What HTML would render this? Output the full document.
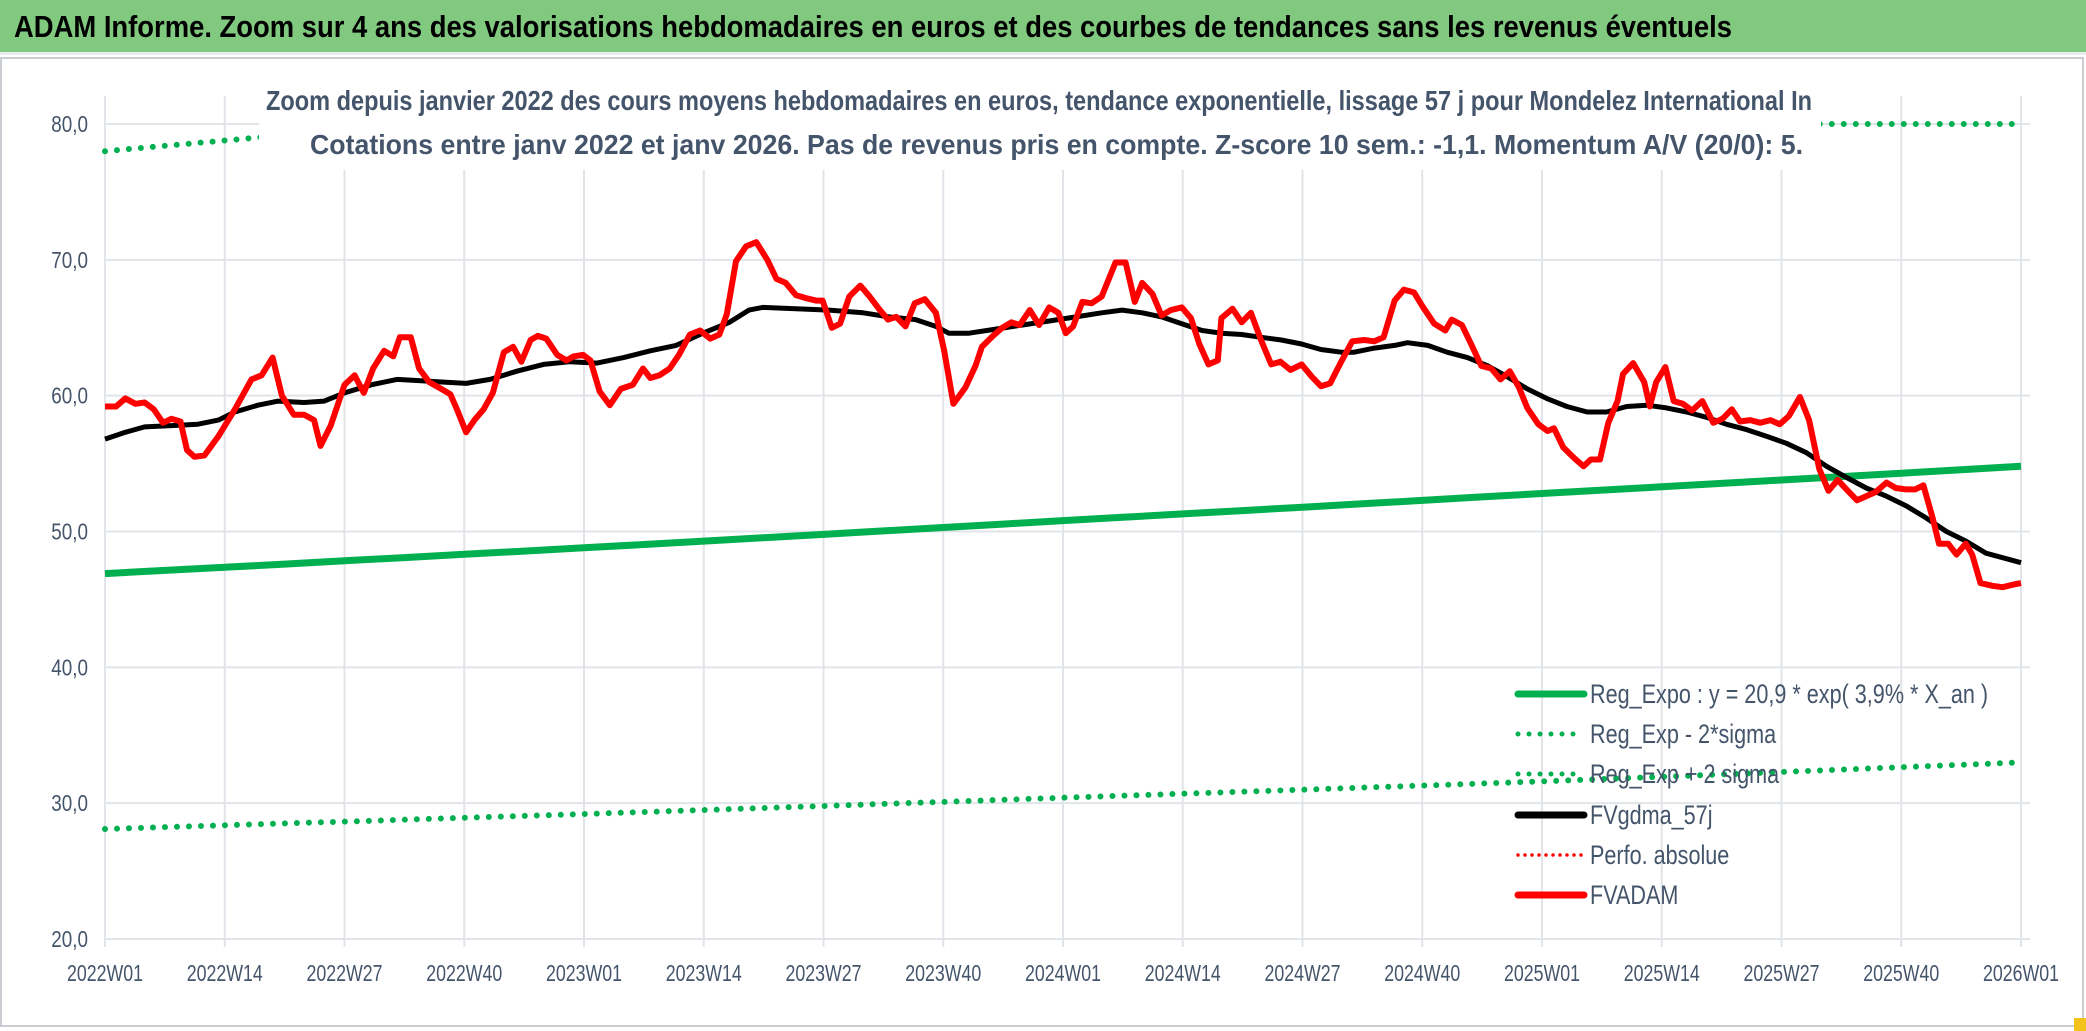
<!DOCTYPE html>
<html><head><meta charset="utf-8"><style>
html,body{margin:0;padding:0;background:#fff;}
body{width:2086px;height:1031px;overflow:hidden;position:relative;font-family:"Liberation Sans",sans-serif;}
#titlebar{position:absolute;left:0;top:0;width:2086px;height:52px;background:#80c97f;border-bottom:3px solid #e8ecf0;}
svg{position:absolute;left:0;top:0;}
</style></head><body>
<div id="titlebar"></div>
<svg id="chart" width="2086" height="1031"></svg>
<script>
const yTicks=[20,30,40,50,60,70,80];
const yTickLabels=["20,0","30,0","40,0","50,0","60,0","70,0","80,0"];
const xTickWeeks=[0,13,26,39,52,65,78,91,104,117,130,143,156,169,182,195,208];
const xTickLabels=["2022W01","2022W14","2022W27","2022W40","2023W01","2023W14","2023W27","2023W40","2024W01","2024W14","2024W27","2024W40","2025W01","2025W14","2025W27","2025W40","2026W01"];
const regWeeks=[0,52,104,156,208];
const regValues=[46.9,48.8,50.8,52.8,54.8];
const lowValues=[28.1,29.2,30.4,31.6,33.0];
const highValues=[78.0,81.2,84.4,87.8,91.2];
const blackWeeks=[0,2.2,4.3,7.2,10.1,12.3,14.1,16.6,18.8,21.6,23.8,26,28.9,31.7,34.3,36.8,39.2,41.8,44.7,47.6,50.5,53.4,56.3,59.2,62,64.9,67.8,69.9,71.4,75,78.6,82.3,85.1,88,90.2,91.6,93.8,96.7,99.6,102.5,105.4,108.2,110.4,112.6,114.7,116.9,119.1,121.2,123.4,125.5,127.7,129.9,132,134.2,135.6,137.8,140,141.4,143.6,145.7,147.9,150.1,152.2,154.4,156.5,158.7,160.9,163,165.2,167.4,169.5,171.7,173.9,176,178.2,180.4,182.5,184.7,186.9,189,191.2,193.4,195.5,197.7,199.9,202,204.2,206.4,208];
const blackValues=[56.8,57.3,57.7,57.8,57.9,58.2,58.8,59.3,59.6,59.5,59.6,60.2,60.8,61.2,61.1,61.0,60.9,61.2,61.8,62.3,62.5,62.4,62.8,63.3,63.7,64.6,65.4,66.3,66.5,66.4,66.3,66.1,65.8,65.6,65.1,64.6,64.6,64.9,65.2,65.5,65.8,66.1,66.3,66.1,65.8,65.3,64.8,64.6,64.5,64.3,64.1,63.8,63.4,63.2,63.2,63.5,63.7,63.9,63.7,63.2,62.8,62.2,61.4,60.5,59.8,59.2,58.8,58.8,59.2,59.3,59.1,58.8,58.4,57.9,57.5,57.0,56.5,55.8,54.8,54.0,53.2,52.6,51.9,51.0,50.0,49.3,48.4,48.0,47.7];
const redWeeks=[0,1.2,2.2,3.3,4.3,5.3,6.3,7.2,8.2,8.9,9.7,10.8,12.3,14.1,15.9,17,18.2,19.2,20.5,21.6,22.7,23.4,24.5,26,27.1,28.1,29.1,30.3,31.3,32,33.2,34.1,35.2,36.5,37.5,38.2,39.2,40.1,41.1,42.1,43.3,44.3,45.2,46.2,47,47.9,49.1,50.1,50.9,51.9,52.7,53.7,54.8,56,57.3,58.4,59.2,60.2,61.3,62.3,63.5,64.6,65.7,66.7,67.5,68.5,69.6,70.7,71.9,72.9,73.9,75,76,77.2,77.9,78.9,79.8,80.8,82,83,84,85,85.9,86.9,87.9,89,90.2,91.1,92.1,93.4,94.5,95.2,96.4,97.4,98.4,99.3,100.4,101.4,102.5,103.5,104.3,105.1,106.1,107.1,108.2,109.7,110.8,111.8,112.6,113.7,114.7,115.7,116.9,117.9,118.8,119.8,120.8,121.2,122.4,123.4,124.4,125.5,126.6,127.6,128.7,129.9,131,132,133,134.2,135.4,136.7,137.8,138.8,140,141,142.1,143.1,144.3,145.5,146.2,147.3,148.3,149.4,150.5,151.5,152.5,153.5,154.4,155.6,156.6,157.3,158.3,159.5,160.5,161.3,162.3,163.2,164.2,164.8,165.9,167.1,167.7,168.4,169.4,170.3,171.3,172.3,173.4,174.6,175.6,176.6,177.5,178.6,179.7,180.8,181.8,182.8,184,185,186.1,187.1,188.1,189.2,190.2,191.2,192.2,193.4,194.4,195.5,196.5,197.4,198.4,199.1,200.1,201,202,202.7,203.6,204.9,206,207.2,208];
const redValues=[59.2,59.2,59.8,59.4,59.5,59.0,58.0,58.3,58.1,56.0,55.5,55.6,57,59,61.2,61.5,62.8,60,58.6,58.6,58.2,56.3,57.8,60.8,61.5,60.2,62,63.3,62.9,64.3,64.3,62,61,60.5,60.1,59,57.3,58.2,59,60.2,63.2,63.6,62.5,64.1,64.4,64.2,63.0,62.6,62.9,63.0,62.6,60.3,59.3,60.5,60.8,62.0,61.3,61.5,62,63,64.5,64.8,64.2,64.5,66,69.9,71,71.3,70,68.6,68.3,67.4,67.2,67.0,67.0,65,65.3,67.3,68.1,67.3,66.4,65.6,65.8,65.1,66.8,67.1,66.1,63.3,59.4,60.6,62.2,63.6,64.4,65,65.4,65.2,66.3,65.2,66.5,66.1,64.6,65.1,66.9,66.8,67.3,69.8,69.8,66.9,68.3,67.5,65.9,66.3,66.5,65.7,63.8,62.3,62.6,65.7,66.4,65.4,66.1,64.1,62.3,62.5,61.9,62.3,61.4,60.7,60.9,62.5,64.0,64.1,64.0,64.3,67.0,67.8,67.6,66.5,65.3,64.8,65.6,65.2,63.8,62.2,62.0,61.2,61.8,60.6,59.1,57.9,57.4,57.6,56.2,55.4,54.8,55.3,55.3,58,59.6,61.6,62.4,61,59.2,61,62.1,59.6,59.4,58.9,59.6,58.0,58.3,59.0,58.1,58.2,58.0,58.2,57.9,58.5,59.9,58.2,54.6,53.0,53.8,53.0,52.3,52.6,52.9,53.6,53.2,53.1,53.1,53.4,51.0,49.1,49.1,48.3,49.1,48.3,46.2,46.0,45.9,46.1,46.2];

const NS="http://www.w3.org/2000/svg";
const svg=document.getElementById('chart');
const X0=105,X1=2021,Y20=939,Y80=124;
function xs(w){return X0+(X1-X0)*w/208;}
function ys(v){return Y20-(Y20-Y80)*(v-20)/60;}
function mk(tag,attrs,parent){const e=document.createElementNS(NS,tag);for(const k in attrs)e.setAttribute(k,attrs[k]);(parent||svg).appendChild(e);return e;}
function condense(t,f){const L=t.getComputedTextLength();t.setAttribute('textLength',(L*f).toFixed(1));t.setAttribute('lengthAdjust','spacingAndGlyphs');}
function fixLen(t,L){t.setAttribute('textLength',L);t.setAttribute('lengthAdjust','spacingAndGlyphs');}
const FONT='"Liberation Sans",sans-serif';

// header text
const ht=mk('text',{x:14,y:37,'font-size':31,'font-weight':'bold',fill:'#000','font-family':FONT});
ht.textContent='ADAM Informe. Zoom sur 4 ans des valorisations hebdomadaires en euros et des courbes de tendances sans les revenus éventuels';


fixLen(ht,1718);

// chart frame
const frame=mk('rect',{x:1,y:58,width:2082,height:968,fill:'#fff',stroke:'#c9ccd1','stroke-width':2});


mk('rect',{x:2074,y:1018,width:12,height:13,fill:'#f2c21b'});

yTicks.forEach((t,i)=>{
  const g=mk('line',{x1:X0,x2:2030,y1:ys(t),y2:ys(t),stroke:'#e1e4e8','stroke-width':2});
  
  
  const l=mk('text',{x:88,y:ys(t)+8,'text-anchor':'end','font-size':23,fill:'#44546a','font-family':FONT});
  l.textContent=yTickLabels[i];
  
  
  condense(l,0.82);
});
xTickWeeks.forEach((w,i)=>{
  const g=mk('line',{x1:xs(w),x2:xs(w),y1:ys(80)-28,y2:Y20+8,stroke:'#e1e4e8','stroke-width':2});
  
  
  const l=mk('text',{x:xs(w),y:981,'text-anchor':'middle','font-size':23,fill:'#44546a','font-family':FONT});
  l.textContent=xTickLabels[i];
  
  
  fixLen(l,76);
});

function interpSeries(weeks,vals){
  const pts=[];
  for(let i=0;i<weeks.length-1;i++){
    for(let s=0;s<8;s++){
      const f=s/8;const w=weeks[i]+(weeks[i+1]-weeks[i])*f;
      const v=vals[i]*Math.pow(vals[i+1]/vals[i],f);
      pts.push([w,v]);
    }
  }
  pts.push([weeks[weeks.length-1],vals[vals.length-1]]);
  return pts;
}
function pathOf(pts){return pts.map((p,i)=>(i?'L':'M')+xs(p[0]).toFixed(1)+','+ys(Math.min(80,p[1])).toFixed(1)).join(' ');}

const low=mk('path',{d:pathOf(interpSeries(regWeeks,lowValues)),fill:'none',stroke:'#00b050','stroke-width':6,'stroke-linecap':'round','stroke-dasharray':'0 12'});


const high=mk('path',{d:pathOf(interpSeries(regWeeks,highValues)),fill:'none',stroke:'#00b050','stroke-width':6,'stroke-linecap':'round','stroke-dasharray':'0 12'});


const reg=mk('path',{d:pathOf(interpSeries(regWeeks,regValues)),fill:'none',stroke:'#00b050','stroke-width':7});


const blk=mk('path',{d:pathOf(blackWeeks.map((w,i)=>[w,blackValues[i]])),fill:'none',stroke:'#000','stroke-width':5,'stroke-linejoin':'round'});


const n=Math.min(redWeeks.length,redValues.length);
const red=mk('path',{d:pathOf(redWeeks.slice(0,n).map((w,i)=>[w,redValues[i]])),fill:'none',stroke:'#ff0000','stroke-width':6,'stroke-linejoin':'round'});



const tb=mk('rect',{x:259,y:76,width:1562,height:94,fill:'#fff'});


const t1=mk('text',{x:266,y:110,'font-size':28,'font-weight':'bold',fill:'#44546a','font-family':FONT});
t1.textContent='Zoom depuis janvier 2022 des cours moyens hebdomadaires en euros, tendance exponentielle, lissage 57 j pour Mondelez International In';


fixLen(t1,1546);
const t2=mk('text',{x:310,y:154,'font-size':28,'font-weight':'bold',fill:'#44546a','font-family':FONT});
t2.textContent='Cotations entre janv 2022 et janv 2026. Pas de revenus pris en compte. Z-score 10 sem.: -1,1. Momentum A/V (20/0): 5.';


fixLen(t2,1493);

const legLabels=['Reg_Expo : y = 20,9 * exp( 3,9% *  X_an )','Reg_Exp - 2*sigma','Reg_Exp + 2 sigma','FVgdma_57j','Perfo. absolue','FVADAM'];
const legColors=['#00b050','#00b050','#00b050','#000','#ff0000','#ff0000'];
const legDotted=[false,true,true,false,true,false];
const legY=[694,734,774,815,855,895];
legLabels.forEach((lab,i)=>{
  const g=mk('g',{});
  
  
  const y=legY[i];
  if(legDotted[i]) mk('line',{x1:1518,x2:1584,y1:y,y2:y,stroke:legColors[i],'stroke-width':i==4?3.5:5,'stroke-linecap':'round','stroke-dasharray':i==4?'0 7':'0 11'},g);
  else mk('line',{x1:1518,x2:1584,y1:y,y2:y,stroke:legColors[i],'stroke-width':7,'stroke-linecap':'round'},g);
  const t=mk('text',{x:1590,y:y+9,'font-size':27,fill:'#44546a','font-family':FONT},g);
  t.textContent=lab;
  condense(t,0.8);
});
</script>
</body></html>
